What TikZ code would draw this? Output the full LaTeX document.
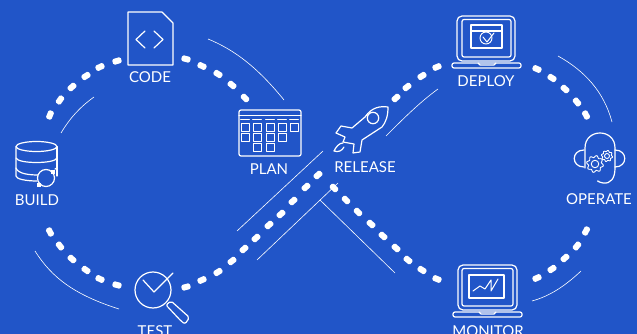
\documentclass[tikz,border=0pt]{standalone}
\usepackage{fontspec}
\setmainfont{Lato}
\definecolor{bgblue}{HTML}{2155C8}
\tikzset{
  icon/.style={draw=white,line width=1.2pt,line join=round,line cap=round},
  thin line/.style={draw=white,line width=0.6pt},
  dashseg/.style={fill=white,rounded corners=1.5pt},
  lab/.style={text=white,font=\fontsize{15}{15}\selectfont,inner sep=0pt,anchor=center,yshift=-0.7pt},
}
\newcommand{\gearicon}[3]{%
  \draw[icon,line width=0.9pt] plot[domain=0:360,samples=73,variable=\t,smooth] ({#1+(#3+0.13*#3*sin(8*\t))*cos(\t)},{#2+(#3+0.13*#3*sin(8*\t))*sin(\t)}) -- cycle;
  \draw[icon,line width=0.9pt] (#1,#2) circle ({0.5*#3});
}
\begin{document}
\begin{tikzpicture}[x=1pt,y=-1pt]
\useasboundingbox (0,0) rectangle (637,334);
\fill[bgblue] (0,0) rectangle (637,334);
% dashes
\foreach \px/\py/\a in {
  50/115/-68, 60/100/-55, 72/87/-42, 86/76/-32, 100/67/-25, 117/61/-17,
  186/59/15, 202/66/25, 218/74/32, 232/85/40, 245/98/45,
  50/232/62, 60/246/52, 72/259/43, 86/270/35, 100/279/25, 117/285/15,
  186/287/-15, 202/280/-24, 218/272/-32, 232/261/-38, 244/249/-43, 256/238/-43, 269/225/-42, 281/214/-42, 293/201/-42, 306/187/-43, 318/175/-42,
  334/188/45, 346/200/45, 358/212/45, 371/224/43, 383/236/43, 396/248/43, 408/260/40, 422/270/32, 437/279/22,
  437/67/-22, 422/76/-32, 407/87/-38, 396/98/-42,
  537/278/-24, 552/269/-34, 565/258/-42, 577/246/-50, 586/231/-62,
  537/69/24, 552/78/32, 565/89/42, 577/102/50, 586/115/62}
  \path[dashseg,shift={(\px,\py)},rotate=-\a] (-4.5,-3) rectangle (4.5,3);
% thin accent lines
\draw[thin line] (208,39) .. controls (235,50) and (258,68) .. (284,100);
\draw[thin line] (94,97) .. controls (80,107) and (70,118) .. (61,133);
\draw[thin line] (35,251) .. controls (52,278) and (75,295) .. (119,309);
\draw[thin line] (237,231) -- (323,151);
\draw[thin line] (257,260) -- (338,183);
\draw[thin line] (320,200) -- (395,273);
\draw[thin line] (386,136) .. controls (403,119) and (420,102) .. (438,89);
\draw[thin line] (558,56) .. controls (585,71) and (604,92) .. (612,122);
\draw[thin line] (532,301) .. controls (550,296) and (565,286) .. (581,271);
% CODE
\draw[icon] (128,12) -- (162,12) -- (173,23) -- (173,65) -- (128,65) -- cycle;
\draw[icon] (145,31) -- (136,39.5) -- (145,48);
\draw[icon] (154,31) -- (163,39.5) -- (154,48);
\node[lab] (code) at (150,76) {CODE};
% PLAN
\draw[icon,rounded corners=2pt] (239,110) rectangle (301,156);
\draw[icon] (239,115.5) -- (301,115.5);
\foreach \cx/\rows in {245/2,257/3,270/3,282/2,294/1}{
  \draw[icon,line width=0.9pt] (\cx-4.5,119.5) -- (\cx+4.5,119.5);
  \foreach \r in {1,...,\rows}
    \draw[icon,line width=0.9pt] (\cx-4,{127+10*(\r-1)-4}) rectangle (\cx+4,{127+10*(\r-1)+4});
}
\node[lab] (plan) at (269,168) {PLAN};
% BUILD
\draw[icon] (36.5,146.5) ellipse (20.5 and 5);
\draw[icon] (16,146.5) -- (16,176) .. controls (16,179) and (26,181) .. (37,181);
\draw[icon] (57,146.5) -- (57,176);
\draw[icon] (16,158) .. controls (18,164) and (55,164) .. (57,158);
\draw[icon] (16,168) .. controls (18,174) and (30,175) .. (38,175);
\draw[icon] (57,168) -- (55,169);
\fill[bgblue] (46,178) circle (8.5);
\draw[icon] (46,178) circle (8.5);
\fill[white] (51,170) rectangle (55,174);
\fill[white] (37,183) rectangle (41,187);
\node[lab] (build) at (37,199) {BUILD};
% TEST
\draw[icon] (153,290) circle (18);
\draw[icon] (143,280) -- (154,292) -- (173,273);
\draw[icon,rounded corners=2pt] (166,305) -- (171,301) -- (189.5,317.5) -- (185,324) -- (181,321) -- cycle;
\node[lab] (test) at (155,330) {TEST};
% RELEASE
\draw[icon] (388,107) .. controls (380,106) and (372,107) .. (365,117) -- (352,128) -- (341,126) -- (336,133) -- (345,137) -- (343,142) -- (354,144) -- (353,153) -- (360,152) -- (362,140) -- (382,127) .. controls (386,122) and (388,116) .. (388,107) -- cycle;
\draw[icon] (373,118) circle (5.7);
\draw[icon] (343,143) .. controls (339,143) and (336,147) .. (334,151) .. controls (338,152.5) and (342,151) .. (344,147);
\node[lab] (release) at (365,166) {RELEASE};
% DEPLOY
\draw[icon,rounded corners=5pt] (457,16) rectangle (515,61);
\draw[icon,rounded corners=2pt] (462,19.5) rectangle (511,57);
\draw[icon] (471,25) rectangle (502,48);
\draw[icon] (471,31) -- (502,31);
\draw[icon,line width=0.9pt] (486,38) circle (6);
\draw[icon,line width=1pt] (483,37) -- (487,42) -- (494,33);
\draw[icon,rounded corners=2pt] (452,63) rectangle (521,68);
\draw[icon] (478,63) -- (480,65) -- (494,65) -- (496,63);
\node[lab] (deploy) at (486,80) {DEPLOY};
% MONITOR
\draw[icon,rounded corners=5pt] (458,265) rectangle (517,310);
\draw[icon,rounded corners=2pt] (462,268.5) rectangle (513,306);
\draw[icon] (469,275) rectangle (504,298);
\draw[icon,line width=1pt] (473,291) -- (480,286) -- (485,289) -- (491,280) -- (491,291) -- (498,279);
\draw[icon,rounded corners=2pt] (453,312) rectangle (522,317);
\draw[icon] (479,312) -- (481,314) -- (494,314) -- (496,312);
\node[lab] (monitor) at (488,330) {MONITOR};
% OPERATE
\draw[icon] (585,168) -- (585,148) .. controls (585,128) and (615,128) .. (615,148) -- (615,168) .. controls (615,178) and (611,184) .. (603,183) .. controls (598,182) and (596,180) .. (599,181.5);
\draw[icon] (584,150) .. controls (571,150) and (571,167) .. (584,167);
\draw[icon] (615,150) .. controls (628,150) and (628,167) .. (615,167);
\gearicon{595}{164}{7.5}
\gearicon{607}{156}{5}
\node[lab] (operate) at (599,198) {OPERATE};
\end{tikzpicture}
\end{document}
